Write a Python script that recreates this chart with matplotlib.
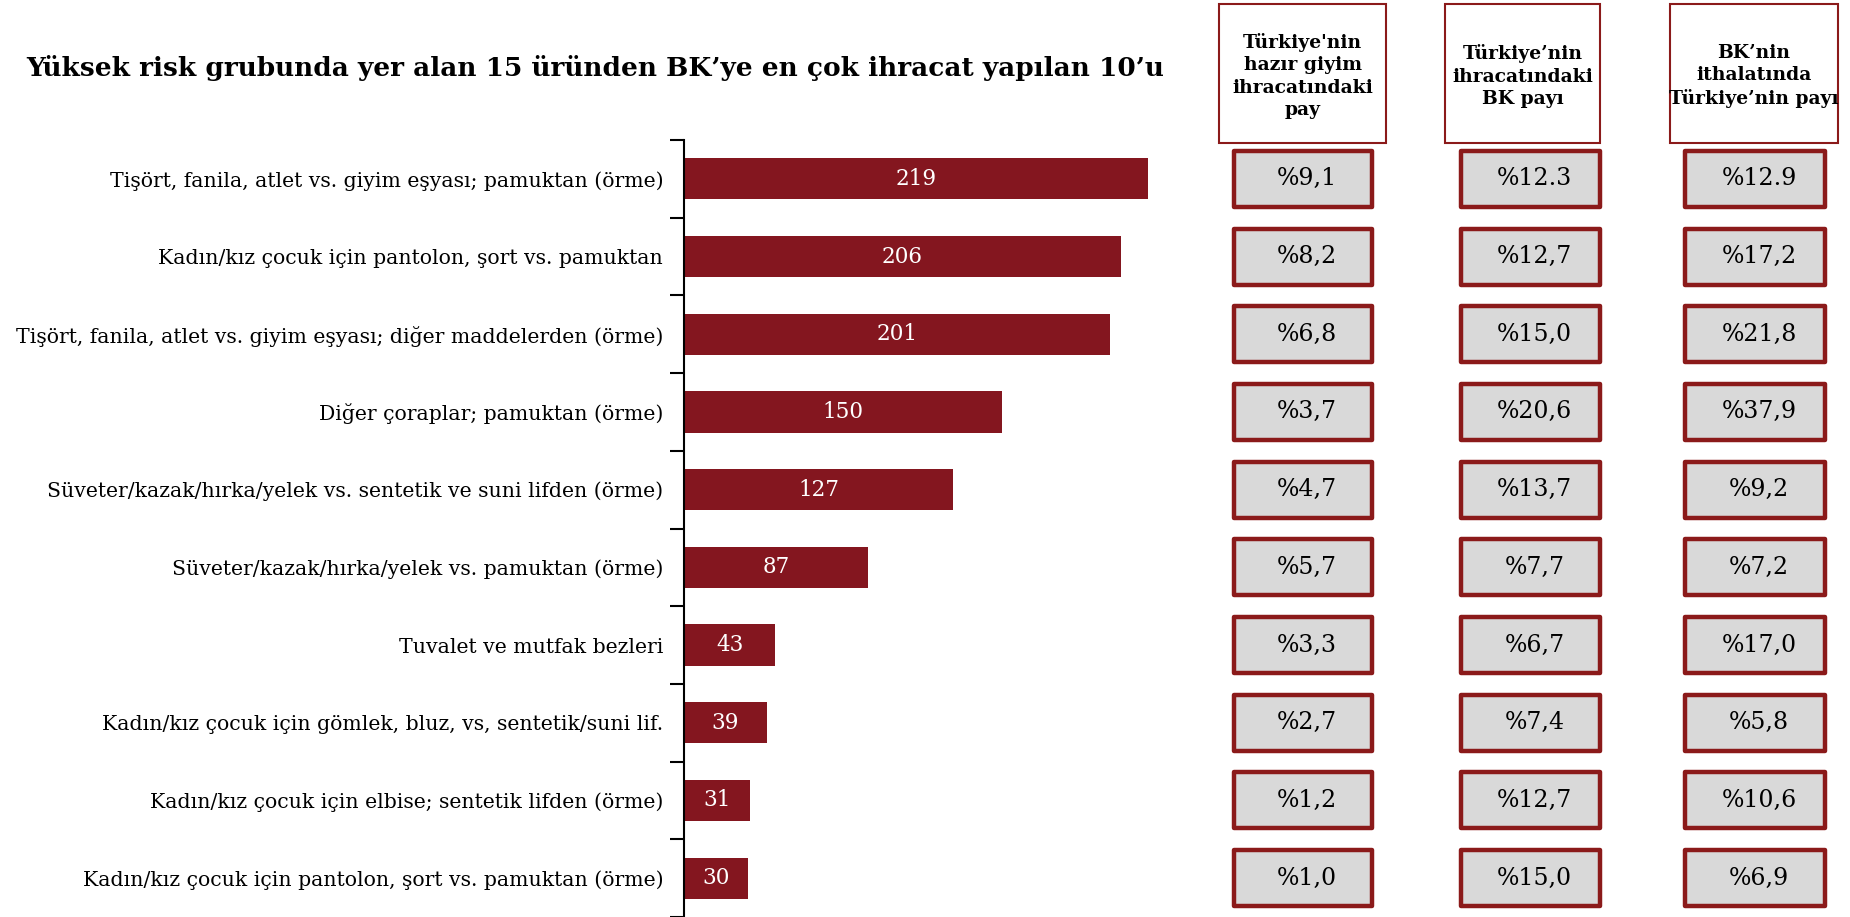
import numpy as np
import matplotlib.pyplot as plt
from matplotlib.patches import Rectangle

plt.rcParams['font.family'] = ['DejaVu Serif']

title = "Yüksek risk grubunda yer alan 15 üründen BK’ye en çok ihracat yapılan 10’u"
products = [
    "Tişört, fanila, atlet vs. giyim eşyası; pamuktan (örme)",
    "Kadın/kız çocuk için pantolon, şort vs. pamuktan",
    "Tişört, fanila, atlet vs. giyim eşyası; diğer maddelerden (örme)",
    "Diğer çoraplar; pamuktan (örme)",
    "Süveter/kazak/hırka/yelek vs. sentetik ve suni lifden (örme)",
    "Süveter/kazak/hırka/yelek vs. pamuktan (örme)",
    "Tuvalet ve mutfak bezleri",
    "Kadın/kız çocuk için gömlek, bluz, vs, sentetik/suni lif.",
    "Kadın/kız çocuk için elbise; sentetik lifden (örme)",
    "Kadın/kız çocuk için pantolon, şort vs. pamuktan (örme)",
]
exports = [219, 206, 201, 150, 127, 87, 43, 39, 31, 30]

headers = [
    "Türkiye'nin\nhazır giyim\nihracatındaki\npay",
    "Türkiye’nin\nihracatındaki\nBK payı",
    "BK’nin\nithalatında\nTürkiye’nin payı",
]
share_apparel = ["%9,1", "%8,2", "%6,8", "%3,7", "%4,7", "%5,7", "%3,3", "%2,7", "%1,2", "%1,0"]
share_uk = ["%12.3", "%12,7", "%15,0", "%20,6", "%13,7", "%7,7", "%6,7", "%7,4", "%12,7", "%15,0"]
share_tr = ["%12.9", "%17,2", "%21,8", "%37,9", "%9,2", "%7,2", "%17,0", "%5,8", "%10,6", "%6,9"]

W, H = 1850, 917
red = '#84161f'
edge = '#8b1a1a'

fig = plt.figure(figsize=(W / 100, H / 100), dpi=100)

# bar chart
ax = fig.add_axes([684 / W, 0, 516 / W, 777 / H])
y = np.arange(len(products))
ax.barh(y, exports, height=0.53, color=red)
ax.set_xlim(0, 516 / 2.12)
ax.set_ylim(len(products) - 0.5, -0.5)
for yi, v in zip(y, exports):
    ax.text(v / 2, yi, str(v), color='white', ha='center', va='center', fontsize=15.5)
ax.set_yticks(y)
ax.set_yticklabels(products, fontsize=14.7)
ax.set_yticks(np.arange(len(products) + 1) - 0.5, minor=True)
ax.tick_params(axis='y', which='major', length=0, pad=15)
ax.tick_params(axis='y', which='minor', length=10, width=1.5)
ax.set_xticks([])
for s in ['top', 'right', 'bottom']:
    ax.spines[s].set_visible(False)
ax.spines['left'].set_linewidth(1.5)

# value boxes
tab = fig.add_axes([1200 / W, 0, 650 / W, 777 / H], sharey=ax)
tab.set_xlim(1200, 1850)
tab.axis('off')
cols = [(1234, 1372, share_apparel), (1461, 1600, share_uk), (1685, 1825, share_tr)]
for x0, x1, vals in cols:
    for yi, v in zip(y, vals):
        tab.add_patch(Rectangle((x0, yi - 0.36), x1 - x0, 0.72, facecolor='#d9d9d9',
                                edgecolor=edge, linewidth=3.2, joinstyle='round'))
        tab.text((x0 + x1) / 2 + 4, yi, v, ha='center', va='center', fontsize=17)

# header + title layer in pixel coordinates
top = fig.add_axes([0, 0, 1, 1], facecolor='none')
top.set_xlim(0, W)
top.set_ylim(H, 0)
top.axis('off')
top.text(26, 68, title, fontsize=19, fontweight='bold', ha='left', va='center')
for (x0, x1), txt in zip([(1219, 1386), (1445, 1600), (1670, 1838)], headers):
    top.add_patch(Rectangle((x0, 4), x1 - x0, 139, facecolor='white', edgecolor=edge, linewidth=1.5))
    top.text((x0 + x1) / 2, 76, txt, ha='center', va='center', fontsize=13.5,
             fontweight='bold', linespacing=1.3)

fig.savefig('out.png', dpi=100)
